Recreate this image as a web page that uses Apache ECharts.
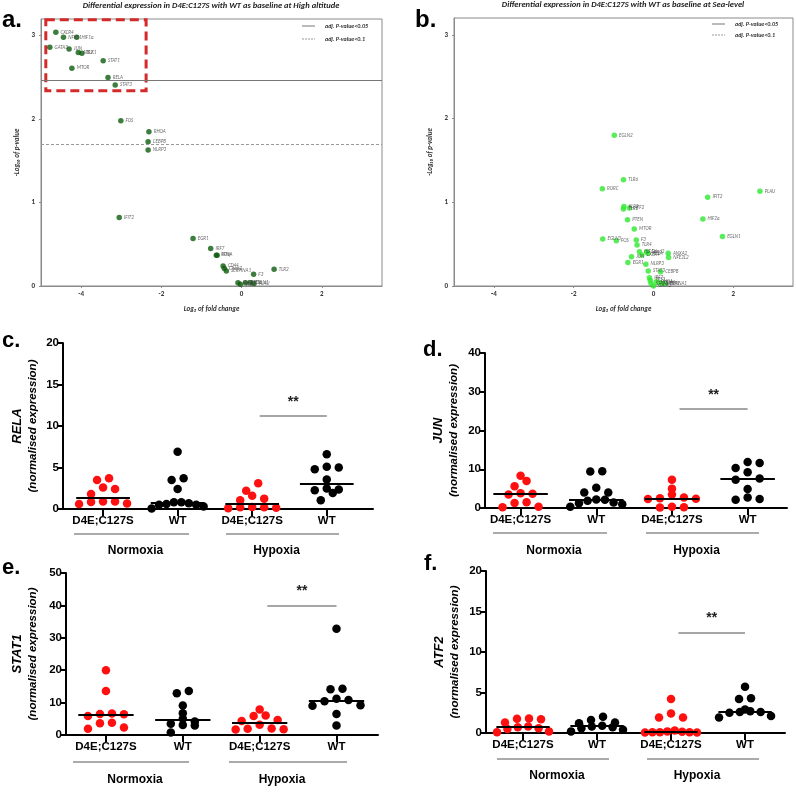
<!DOCTYPE html>
<html><head><meta charset="utf-8">
<script src="https://cdn.jsdelivr.net/npm/echarts@6/dist/echarts.min.js"></script>
<style>html,body{margin:0;padding:0;background:#fff}#c{width:796px;height:796px}</style>
</head><body><div id="c"></div>
<script>
// ---------------- DATA ----------------
// Volcano a (High altitude)
const aGenes = ['CXCR4','NFKB1','HIF1α','GATA3','JUN','ATF2','ELK1','STAT1','MTOR','RELA','STAT3','FOS','RHOA','CEBPB','NLRP3','IFIT2','EGR1','IRF7','PCNA','IFNγ','CD44','Cited2','SERPINA1','F3','TLR2','KLF2','TLR4','PTEN','EGLN1','PLAU'];
const aLog2FC = [-4.63,-4.44,-4.11,-4.78,-4.30,-4.07,-3.98,-3.45,-4.23,-3.33,-3.15,-3.01,-2.31,-2.33,-2.33,-3.05,-1.21,-0.77,-0.63,-0.61,-0.46,-0.43,-0.38,0.30,0.81,-0.09,-0.03,0.10,0.22,0.31];
const aNegLogP = [3.04,2.98,2.98,2.86,2.84,2.80,2.79,2.70,2.61,2.50,2.41,1.98,1.85,1.73,1.63,0.82,0.57,0.45,0.37,0.37,0.24,0.21,0.18,0.14,0.20,0.04,0.02,0.04,0.04,0.03];
// Volcano b (Sea-level)
const bGenes = ['EGLN2','TLR6','RORC','PLAU','IFIT2','KLF2','TLR2','ATF2','PTEN','HIF2α','MTOR','EGLN1','EGLN3','FOS','F3','TLR4','HIF1α','Cited2','RELA','JUN','CXCR4','ANXA2','NFE2L2','EGR1','NLRP3','STAT3','CEBPB','IRF7','TP53','STAT1','GATA3','RHOA','CD44','SERPINA1','ELK1'];
const bLog2FC = [-0.98,-0.75,-1.28,2.67,1.36,-0.74,-0.75,-0.60,-0.65,1.24,-0.48,1.73,-1.27,-0.93,-0.43,-0.41,-0.35,-0.17,-0.14,-0.55,-0.29,0.37,0.38,-0.64,-0.19,-0.13,0.18,-0.10,-0.08,-0.06,0.00,0.07,0.15,0.22,0.30];
const bNegLogP = [1.80,1.27,1.16,1.13,1.06,0.95,0.92,0.93,0.79,0.80,0.68,0.59,0.56,0.54,0.55,0.49,0.41,0.41,0.39,0.35,0.37,0.39,0.34,0.28,0.26,0.18,0.17,0.10,0.07,0.03,0.00,0.05,0.04,0.03,0.03];
const sigThreshold05 = 2.47;
const sigThreshold10 = 1.70;

// Scatter categories
const categories = ['D4E;C127S','WT','D4E;C127S','WT'];
const conditions = ['Normoxia','Hypoxia'];

// RELA
const relaNormMut = [3.7,3.5,2.6,2.4,1.8,0.9,0.85,0.6,0.65,0.9];
const relaNormWT  = [6.9,3.7,3.5,2.4,0.8,0.5,0.7,0.3,0.5,0.8,0.6,0.05];
const relaHypMut  = [3.1,2.2,1.6,1.25,1.05,0.25,0.15,0.2,0.1,0.2];
const relaHypWT   = [6.6,5.1,5.0,4.8,3.55,2.47,2.35,2.26,1.94,1.05];
// JUN
const junNormMut = [8.3,7.0,5.6,3.8,3.7,3.5,1.5,1.3,0.3,0.2];
const junNormWT  = [9.5,9.4,5.2,4.0,4.0,2.2,2.1,1.9,1.4,1.2,1.0,0.3];
const junHypMut  = [7.3,5.0,3.5,2.7,2.5,2.4,2.3,0.3,0.2,0.1];
const junHypWT   = [11.9,11.6,10.3,9.2,7.6,7.3,4.9,2.7,2.3,2.1];
// STAT1
const stat1NormMut = [20,13.6,6.6,6.5,6.4,5.9,3.8,3.6,2.3,1.9];
const stat1NormWT  = [13.6,12.9,9.1,6.7,5.0,4.2,3.5,3.1,2.9,0.8];
const stat1HypMut  = [7.9,6.0,5.9,4.6,4.3,3.2,2.0,1.9,1.8,1.7];
const stat1HypWT   = [32.8,14.3,14.1,11.2,10.8,10.4,9.2,9.0,6.5,2.9];
// ATF2
const atf2NormMut = [1.8,1.75,1.7,1.3,0.8,0.7,0.6,0.5,0.2,0.1];
const atf2NormWT  = [2.0,1.6,1.3,1.2,0.9,0.8,0.7,0.6,0.4,0.2];
const atf2HypMut  = [4.2,2.4,1.9,1.9,0.3,0.2,0.15,0.1,0.1,0.1,0.05,0.05];
const atf2HypWT   = [5.7,4.3,4.2,2.9,2.7,2.6,2.6,2.5,2.1,1.9];

// y ticks of scatter panels
const relaTicks = [0,5,10,15,20];
const junTicks = [0,10,20,30,40];
const stat1Ticks = [0,10,20,30,40,50];
const atf2Ticks = [0,5,10,15,20];
const volcanoXTicks = [-4,-2,0,2];
const volcanoYTicks = [0,1,2,3];

// ---------------- LAYOUT / HELPERS ----------------
const VF = 'Carlito, Lato, "Open Sans", sans-serif';
const SF = '"Liberation Sans", Arial, sans-serif';

function median(v){const s=[...v].sort((a,b)=>a-b);const n=s.length;return n%2?s[(n-1)/2]:(s[n/2-1]+s[n/2])/2;}
// deterministic row-based scatter layout (Prism-like): group values into rows, spread symmetrically
function swarm(vals, cat, ppuX, ppuY){
  const idx = vals.map((v,i)=>i).sort((a,b)=>vals[a]-vals[b]);
  const rows=[]; let cur=null;
  for(const i of idx){
    const yp=vals[i]*ppuY;
    if(!cur || yp-cur.y0>7.5){cur={y0:yp, items:[]}; rows.push(cur);}
    cur.items.push(i);
  }
  const out=[];
  rows.forEach(r=>{
    const n=r.items.length; const step = n>1 ? Math.min(12, 52/(n-1)) : 0;
    // slots ordered outside-in (left, right, left, right ...), lowest values take outer slots
    const slots=[]; let lo=0, hi=n-1, t=0;
    while(lo<=hi){ if(t%2===0){slots.push(lo++);} else {slots.push(hi--);} t++; }
    r.items.forEach((i,j)=>{ const off=(slots[j]-(n-1)/2)*step; out.push([cat+off/ppuX, vals[i]]); });
  });
  return out;
}

const panels = [
  {gene:'RELA', grid:{left:63,top:343,width:310,height:166}, xMin:-0.537, xMax:3.62, ticks:relaTicks, groups:[relaNormMut,relaNormWT,relaHypMut,relaHypWT], sigY:11.2, nameGap:23},
  {gene:'JUN', grid:{left:485,top:353,width:302,height:155}, xMin:-0.47, xMax:3.52, ticks:junTicks, groups:[junNormMut,junNormWT,junHypMut,junHypWT], sigY:25.5, nameGap:24},
  {gene:'STAT1', grid:{left:66,top:573,width:312,height:162}, xMin:-0.52, xMax:3.54, ticks:stat1Ticks, groups:[stat1NormMut,stat1NormWT,stat1HypMut,stat1HypWT], sigY:40, nameGap:26},
  {gene:'ATF2', grid:{left:486,top:571,width:299,height:162}, xMin:-0.5, xMax:3.54, ticks:atf2Ticks, groups:[atf2NormMut,atf2NormWT,atf2HypMut,atf2HypWT], sigY:12.4, nameGap:24}
];

const grids=[], xAxes=[], yAxes=[], series=[];

// Volcano panels
function volcano(idx, grid, genes, fc, nlp, color, withLines){
  grids.push(Object.assign({show:true, borderColor:'#8a8a8a', borderWidth:1, backgroundColor:'transparent'}, grid));
  xAxes.push({gridIndex:idx, type:'value', min:-5, max:3.5,
    axisLine:{show:true, onZero:false, lineStyle:{color:'#8a8a8a', width:1}},
    axisTick:{show:true, customValues:volcanoXTicks, length:2, lineStyle:{color:'#8a8a8a'}},
    axisLabel:{customValues:volcanoXTicks, fontSize:7, fontWeight:'bold', color:'#333', fontFamily:VF, margin:5},
    splitLine:{show:false},
    name:'Log₂ of fold change', nameLocation:'middle', nameGap:20,
    nameTextStyle:{fontSize:7, fontWeight:'bold', fontStyle:'italic', color:'#333', fontFamily:VF}});
  yAxes.push({gridIndex:idx, type:'value', min:0, max:3.2,
    axisLine:{show:true, onZero:false, lineStyle:{color:'#8a8a8a', width:1}},
    axisTick:{show:true, customValues:volcanoYTicks, length:2, lineStyle:{color:'#8a8a8a'}},
    axisLabel:{customValues:volcanoYTicks, fontSize:7, fontWeight:'bold', color:'#333', fontFamily:VF, margin:6},
    splitLine:{show:false},
    name:'-Log₁₀ of p-value', nameLocation:'middle', nameGap:20, nameRotate:90,
    nameTextStyle:{fontSize:7, fontWeight:'bold', fontStyle:'italic', color:'#333', fontFamily:VF}});
  const s = {type:'scatter', xAxisIndex:idx, yAxisIndex:idx, symbolSize:5.5,
    itemStyle:{color:color}, silent:true,
    data: genes.map((g,i)=>[fc[i], nlp[i], g]),
    label:{show:true, position:'right', distance:2, fontSize:5, fontStyle:'italic', color:'#444', fontFamily:VF, formatter:p=>p.data[2]}};
  if(withLines){
    s.markLine = {silent:true, symbol:['none','none'], label:{show:false},
      data:[{yAxis:sigThreshold05, lineStyle:{color:'#777', width:1, type:'solid'}},
            {yAxis:sigThreshold10, lineStyle:{color:'#999', width:1, type:[3,2]}}]};
    s.markArea = {silent:true, itemStyle:{color:'rgba(0,0,0,0)', borderColor:'#d42a2a', borderWidth:3, borderType:[9,5]},
      data:[[{coord:[-4.88,3.19]},{coord:[-2.38,2.34]}]]};
  }
  series.push(s);
}
volcano(0, {left:41, top:19, width:341, height:267}, aGenes, aLog2FC, aNegLogP, '#0c5c0c', true);
volcano(1, {left:454, top:18, width:339, height:268}, bGenes, bLog2FC, bNegLogP, '#2ee82e', false);

panels.forEach((P, k)=>{
  const idx = k+2;
  const yMax = P.ticks[P.ticks.length-1];
  grids.push(P.grid);
  xAxes.push({gridIndex:idx, type:'value', min:P.xMin, max:P.xMax,
    axisLine:{show:true, onZero:false, lineStyle:{color:'#000', width:2}},
    axisTick:{show:true, customValues:[0,1,2,3], length:7, lineStyle:{color:'#000', width:2}},
    axisLabel:{customValues:[0,1,2,3], formatter:v=>categories[Math.round(v)], fontSize:11.5, fontWeight:'bold', color:'#000', fontFamily:SF, margin:6},
    splitLine:{show:false}});
  yAxes.push({gridIndex:idx, type:'value', min:0, max:yMax, interval:P.ticks[1]-P.ticks[0],
    axisLine:{show:true, onZero:false, lineStyle:{color:'#000', width:2}},
    axisTick:{show:true, length:5, lineStyle:{color:'#000', width:2}},
    axisLabel:{fontSize:11.5, fontWeight:'bold', color:'#000', fontFamily:SF, margin:4},
    splitLine:{show:false},
    name:'{g|'+P.gene+'}\n{n|(normalised expression)}', nameLocation:'middle', nameGap:P.nameGap, nameRotate:90,
    nameTextStyle:{fontFamily:SF, color:'#000', lineHeight:15,
      rich:{g:{fontSize:13, fontWeight:'bold', fontStyle:'italic', fontFamily:SF, color:'#000', lineHeight:15},
            n:{fontSize:11.5, fontWeight:'bold', fontStyle:'italic', fontFamily:SF, color:'#000', lineHeight:15}}}});
  const ppuX = P.grid.width/(P.xMax-P.xMin), ppuY = P.grid.height/yMax;
  P.groups.forEach((vals, c)=>{
    const med = median(vals);
    const s = {type:'scatter', xAxisIndex:idx, yAxisIndex:idx, symbolSize:8.5, silent:true,
      itemStyle:{color: c%2===0 ? '#ff1010' : '#000', opacity:1},
      data: swarm(vals, c, ppuX, ppuY),
      markLine:{silent:true, symbol:['none','none'], animation:false,
        data:[[{coord:[c-0.36, med], lineStyle:{color:'#000', width:2, type:'solid'}, label:{show:false}},{coord:[c+0.36, med]}]]}};
    if(c===3){
      s.markLine.data.push([{coord:[2.1, P.sigY], lineStyle:{color:'#888', width:1.5, type:'solid'},
        label:{show:true, position:'insideMiddleTop', formatter:'**', fontSize:14, fontWeight:'bold', color:'#222', distance:7}},
        {coord:[3.0, P.sigY]}]);
    }
    series.push(s);
  });
});

// ---------------- ANNOTATIONS ----------------
const G = [];
function txt(x,y,t,font,color,align){G.push({type:'text', x:x, y:y, silent:true, style:{text:t, font:font, fill:color||'#000', align:align||'center', textAlign:align||'center', verticalAlign:'middle', textVerticalAlign:'middle'}});}
function ln(x1,y1,x2,y2,color,w,dash){G.push({type:'line', silent:true, shape:{x1,y1,x2,y2}, style:{stroke:color, lineWidth:w, lineDash:dash||null}});}
// panel letters
txt(2,20,'a.','bold 24px '+SF,'#000','left');
txt(415,20,'b.','bold 24px '+SF,'#000','left');
txt(2,341,'c.','bold 22px '+SF,'#000','left');
txt(423,350,'d.','bold 22px '+SF,'#000','left');
txt(2,568,'e.','bold 22px '+SF,'#000','left');
txt(424,564,'f.','bold 22px '+SF,'#000','left');
// volcano titles
txt(211,6,'Differential expression in D4E:C127S with WT as baseline at High altitude','italic bold 8.5px '+VF,'#222');
txt(623,5,'Differential expression in D4E:C127S with WT as baseline at Sea-level','italic bold 8.5px '+VF,'#222');
// volcano legends
ln(302,26,315,26,'#777',1); ln(302,39,315,39,'#999',1,[2,1]);
txt(325,26,'adj. P-value<0.05','italic bold 6px '+VF,'#333','left');
txt(325,39,'adj. P-value<0.1','italic bold 6px '+VF,'#333','left');
ln(712,24,725,24,'#777',1); ln(712,35,725,35,'#999',1,[2,1]);
txt(735,24,'adj. P-value<0.05','italic bold 6px '+VF,'#333','left');
txt(735,35,'adj. P-value<0.1','italic bold 6px '+VF,'#333','left');
// condition brackets
const br = [
  {y:534, ty:551, a:[74,189], b:[226,339]},
  {y:533, ty:551, a:[493,607], b:[646,759]},
  {y:762, ty:780, a:[73,189], b:[229,347]},
  {y:759, ty:776, a:[497,609], b:[647,759]}
];
br.forEach(B=>{
  ln(B.a[0],B.y,B.a[1],B.y,'#aaa',2); ln(B.b[0],B.y,B.b[1],B.y,'#aaa',2);
  txt((B.a[0]+B.a[1])/2+4,B.ty,conditions[0],'bold 12px '+SF,'#000');
  txt((B.b[0]+B.b[1])/2-6,B.ty,conditions[1],'bold 12px '+SF,'#000');
});

const chart = echarts.init(document.getElementById('c'), null, {renderer:'canvas'});
chart.setOption({animation:false, backgroundColor:'#fff', grid:grids, xAxis:xAxes, yAxis:yAxes, series:series, graphic:G});
</script></body></html>
